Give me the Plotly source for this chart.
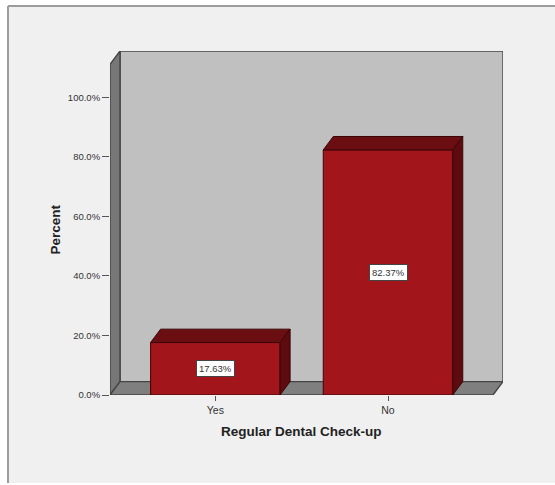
import plotly.graph_objects as go

# ---- data ----
categories = ["Yes", "No"]
percents = [17.63, 82.37]
y_tick_values = [0, 20, 40, 60, 80, 100]
y_tick_labels = ["0.0%", "20.0%", "40.0%", "60.0%", "80.0%", "100.0%"]
x_title = "Regular Dental Check-up"
y_title = "Percent"

# ---- geometry / style ----
W, H = 555, 485
ML, MR, MT, MB = 110, 52, 51, 90          # plot-area margins (px)
XR = [-0.61, 1.666]                        # category axis range
YR = [0, 115.6]                            # percent axis range
DX, DY = 0.058, 4.5                        # pseudo-3D depth offset (axis units)
BAR_W = 0.75

FRONT = "#a2161b"
TOP = "#6b0e11"
SIDE = "#5d0b0e"
EDGE = "#3b0608"
FONT = "Liberation Sans, Arial, sans-serif"

PW, PH = W - ML - MR, H - MT - MB


def px_to_paper(px, py):
    return (px - ML) / PW, (H - MB - py) / PH


def poly(pts):
    return "M " + " L ".join(f"{x},{y}" for x, y in pts) + " Z"


shapes = []

# panel background with left/top border
x0p, y0p = px_to_paper(8, 6)
x1p, y1p = px_to_paper(W + 5, 483)
shapes.append(dict(type="rect", xref="paper", yref="paper", x0=x0p, x1=x1p,
                   y0=y1p, y1=y0p, fillcolor="#f0f0f0", line_width=0,
                   layer="below"))
shapes.append(dict(type="line", xref="paper", yref="paper", x0=x0p, x1=x0p,
                   y0=y1p, y1=y0p, line=dict(color="#9c9c9c", width=2),
                   layer="below"))
shapes.append(dict(type="line", xref="paper", yref="paper", x0=x0p, x1=x1p,
                   y0=y0p, y1=y0p, line=dict(color="#9c9c9c", width=2),
                   layer="below"))

# chart frame: back wall, left wall, floor
fx0, fx1 = XR[0], XR[1] - DX
fy1 = YR[1] - DY
wall_line = dict(color="#444444", width=1.4)
shapes.append(dict(type="path", xref="x", yref="y", layer="below",
                   path=poly([(fx0 + DX, DY), (fx0 + DX, YR[1]),
                              (XR[1], YR[1]), (XR[1], DY)]),
                   fillcolor="#c0c0c0", line=wall_line))
shapes.append(dict(type="path", xref="x", yref="y", layer="below",
                   path=poly([(fx0, 0), (fx0, fy1), (fx0 + DX, YR[1]),
                              (fx0 + DX, DY)]),
                   fillcolor="#777777", line=wall_line))
shapes.append(dict(type="path", xref="x", yref="y", layer="below",
                   path=poly([(fx0, 0), (fx1, 0), (XR[1], DY),
                              (fx0 + DX, DY)]),
                   fillcolor="#7f7f7f", line=wall_line))

# top and side faces of each bar
edge_line = dict(color=EDGE, width=1)
for i, v in enumerate(percents):
    l, r = i - BAR_W / 2, i + BAR_W / 2
    shapes.append(dict(type="path", xref="x", yref="y", layer="above",
                       path=poly([(l, v), (l + DX, v + DY), (r + DX, v + DY),
                                  (r, v)]),
                       fillcolor=TOP, line=edge_line))
    shapes.append(dict(type="path", xref="x", yref="y", layer="above",
                       path=poly([(r, 0), (r, v), (r + DX, v + DY),
                                  (r + DX, DY)]),
                       fillcolor=SIDE, line=edge_line))

fig = go.Figure(go.Bar(
    x=list(range(len(categories))), y=percents, width=BAR_W,
    marker=dict(color=FRONT, line=dict(color=EDGE, width=1)),
    hoverinfo="skip",
))

# value boxes at mid-height of each bar
annotations = []
for i, v in enumerate(percents):
    annotations.append(dict(
        x=i, y=v / 2, xref="x", yref="y", text=f"{v:.2f}%", showarrow=False,
        bgcolor="white", bordercolor="#444444", borderwidth=1, borderpad=2,
        font=dict(family=FONT, size=9.5, color="#333333"),
    ))

tx, ty = px_to_paper(55, 229.5)
annotations.append(dict(x=tx, y=ty, xref="paper", yref="paper",
                        text=f"<b>{y_title}</b>", textangle=-90,
                        showarrow=False,
                        font=dict(family=FONT, size=13.5, color="#222222"),
                        xanchor="center", yanchor="middle"))
tx, ty = px_to_paper(301.5, 431.5)
annotations.append(dict(x=tx, y=ty, xref="paper", yref="paper",
                        text=f"<b>{x_title}</b>", showarrow=False,
                        font=dict(family=FONT, size=13.5, color="#222222"),
                        xanchor="center", yanchor="middle"))

fig.update_layout(
    width=W, height=H,
    margin=dict(l=ML, r=MR, t=MT, b=MB, pad=0),
    paper_bgcolor="white", plot_bgcolor="rgba(0,0,0,0)",
    showlegend=False,
    shapes=shapes, annotations=annotations,
    font=dict(family=FONT, color="#333333"),
    xaxis=dict(range=XR, tickvals=list(range(len(categories))),
               ticktext=categories, ticks="outside", ticklen=5,
               tickcolor="#555555", tickwidth=1, showgrid=False,
               zeroline=False, showline=False, fixedrange=True,
               tickfont=dict(family=FONT, size=10.5, color="#333333")),
    yaxis=dict(range=YR, tickvals=y_tick_values, ticktext=y_tick_labels,
               ticks="outside", ticklen=7, tickcolor="#555555", tickwidth=1,
               showgrid=False, zeroline=False, showline=False,
               fixedrange=True,
               tickfont=dict(family=FONT, size=9.5, color="#333333")),
)

fig.write_html("out.html")
